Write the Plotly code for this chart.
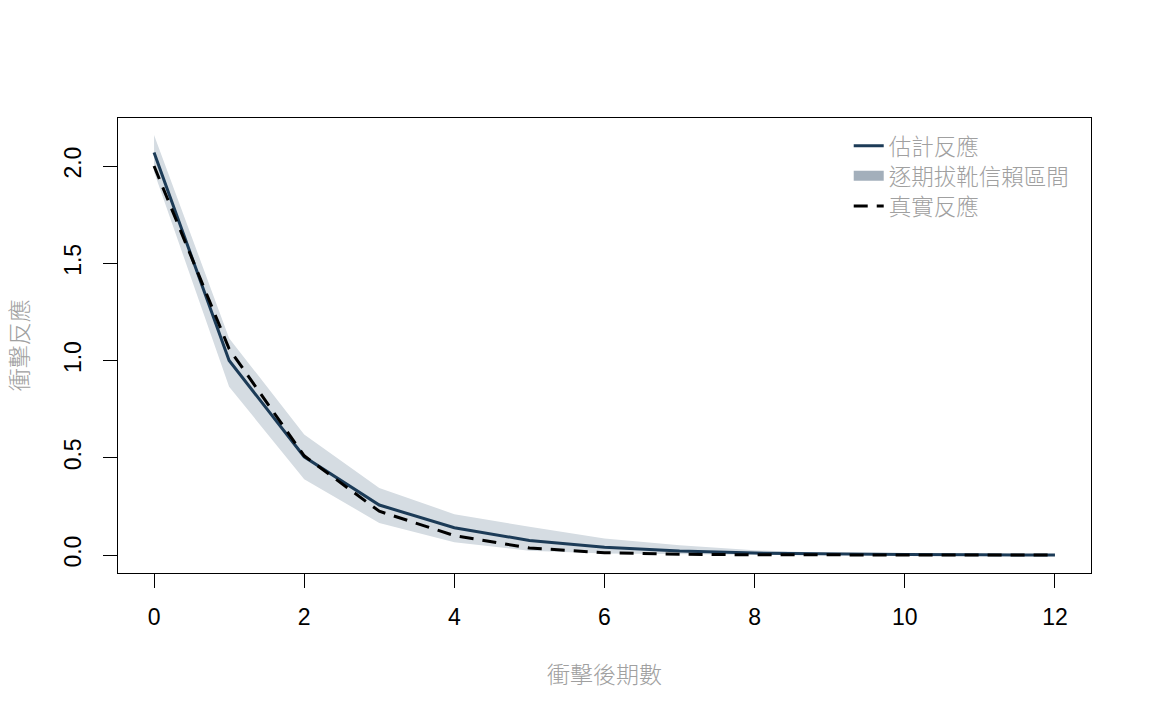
import plotly.graph_objects as go

periods = list(range(13))
estimated = [2.07, 1.00, 0.505, 0.257, 0.14, 0.075, 0.04, 0.02, 0.01, 0.005, 0.002, 0.001, 0.0]
true_resp = [2.00, 1.06, 0.51, 0.225, 0.10, 0.036, 0.012, 0.004, 0.001, 0.0, 0.0, 0.0, 0.0]
ci_upper = [2.16, 1.115, 0.62, 0.345, 0.21, 0.145, 0.085, 0.05, 0.024, 0.01, 0.004, 0.002, 0.001]
ci_lower = [1.97, 0.865, 0.39, 0.165, 0.065, 0.022, 0.008, 0.003, 0.001, 0.0, 0.0, 0.0, 0.0]
x_ticks = [0, 2, 4, 6, 8, 10, 12]
y_ticks = [0.0, 0.5, 1.0, 1.5, 2.0]
y_ticklabels = ["0.0", "0.5", "1.0", "1.5", "2.0"]

NAVY = "#1C3B57"
BAND = "#D5DCE2"
BAND_LEG = "#A3AFBB"
GRAY_TXT = "#A0A0A0"
CJK = "Noto Sans CJK TC, Noto Sans CJK SC, sans-serif"
NUM = "Liberation Sans Narrow, Liberation Sans, Arial, sans-serif"

fig = go.Figure()
fig.add_trace(go.Scatter(x=periods, y=ci_lower, mode="lines", line=dict(width=0, color=BAND),
                         showlegend=False, hoverinfo="skip"))
fig.add_trace(go.Scatter(x=periods, y=ci_upper, mode="lines", line=dict(width=0, color=BAND),
                         fill="tonexty", fillcolor=BAND, showlegend=False, hoverinfo="skip"))
fig.add_trace(go.Scatter(x=periods, y=estimated, mode="lines", name="估計反應",
                         line=dict(color=NAVY, width=3), legend="legend"))
fig.add_trace(go.Scatter(x=[None], y=[None], mode="lines", name="逐期拔靴信賴區間",
                         line=dict(color=BAND_LEG, width=10), legend="legend2"))
fig.add_trace(go.Scatter(x=periods, y=true_resp, mode="lines", name="真實反應",
                         line=dict(color="black", width=3, dash="14px,9px"), legend="legend3"))

axis_common = dict(showline=True, linecolor="black", linewidth=1, mirror=True,
                   ticks="outside", ticklen=14, tickwidth=1, tickcolor="black",
                   showgrid=False, zeroline=False,
                   tickfont=dict(family=NUM, size=23, color="black"))

leg_common = dict(x=0.751, xanchor="left", yanchor="middle",
                  bgcolor="rgba(0,0,0,0)", borderwidth=0,
                  font=dict(family=CJK, size=22.5, color=GRAY_TXT, weight=300))

fig.update_layout(
    width=1152, height=720,
    margin=dict(l=118, r=61, t=118, b=147),
    plot_bgcolor="white", paper_bgcolor="white",
    xaxis=dict(range=[-0.48, 12.48], tickvals=x_ticks, ticklabelstandoff=9, **axis_common),
    yaxis=dict(range=[-0.0925, 2.247], tickvals=y_ticks, ticktext=y_ticklabels,
               tickangle=-90, ticklabelstandoff=13, **axis_common),
    legend=dict(y=0.938, **leg_common),
    legend2=dict(y=0.872, **leg_common),
    legend3=dict(y=0.806, **leg_common),
    showlegend=True,
    annotations=[
        dict(text="衝擊後期數", xref="paper", yref="paper", x=0.5, y=-0.22,
             xanchor="center", yanchor="middle", showarrow=False,
             font=dict(family=CJK, size=23, color=GRAY_TXT, weight=300)),
        dict(text="衝擊反應", xref="paper", yref="paper", x=-0.103, y=0.5,
             xanchor="center", yanchor="middle", showarrow=False, textangle=-90,
             font=dict(family=CJK, size=23, color=GRAY_TXT, weight=300)),
    ],
)

fig.write_html("out.html")
